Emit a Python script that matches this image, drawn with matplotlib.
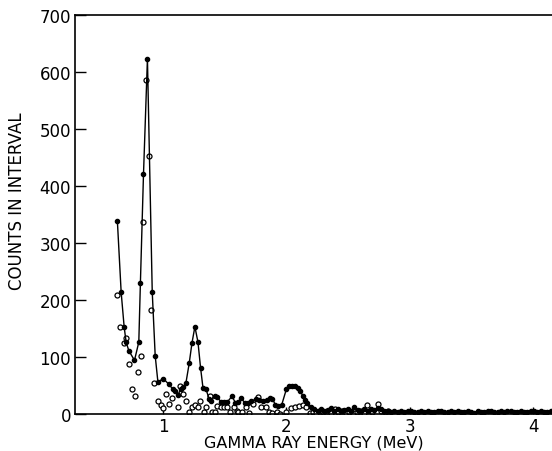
import numpy as np
import matplotlib
matplotlib.use("Agg")
import matplotlib.pyplot as plt

# espectro con ajuste (puntos llenos, unidos por la curva)
energia_llena = [0.628, 0.659, 0.683, 0.699, 0.721, 0.767, 0.802, 0.815, 0.840, 0.872,
                 0.911, 0.935, 0.957, 1.000, 1.046, 1.076, 1.098, 1.119, 1.143, 1.160,
                 1.184, 1.211, 1.233, 1.257, 1.282, 1.303, 1.323, 1.347, 1.372, 1.390,
                 1.417, 1.440, 1.469, 1.490, 1.520, 1.558, 1.585, 1.610, 1.632, 1.660,
                 1.690, 1.715, 1.756, 1.780, 1.810, 1.840, 1.864, 1.885, 1.910, 1.935,
                 1.960, 2.000, 2.019, 2.046, 2.068, 2.092, 2.110, 2.133, 2.150, 2.168,
                 2.200]
cuentas_llenas = [339, 213, 153, 126, 111, 94, 126, 230, 420, 623,
                  214, 102, 56, 62, 52, 44, 41, 33, 44, 47,
                  54, 89, 124, 153, 126, 81, 45, 44, 26, 22,
                  32, 29, 21, 21, 21, 31, 20, 21, 28, 20,
                  19, 23, 26, 25, 23, 25, 28, 27, 16, 14,
                  15, 44, 49, 49, 49, 45, 40, 32, 24, 19,
                  13]

# cola de alta energia (canales de ancho constante)
cola_inicio = 2.227
cola_paso = 0.027
cuentas_cola = [8, 6, 9, 5, 7, 10, 6, 8, 5, 7, 9, 6, 12, 7, 5, 8, 6, 9, 7, 10, 8, 6,
                5, 4, 6, 3, 5, 4, 6, 5, 3, 4, 6, 4, 5, 3, 4, 5, 6, 4, 3, 5, 4, 6, 3, 4,
                5, 4, 2, 5, 4, 3, 5, 6, 4, 3, 5, 4, 6, 5, 3, 4, 5, 4, 3, 5, 6, 4, 5, 3,
                4, 5]

# segundo espectro (circulos abiertos)
energia_abierta = [0.624, 0.653, 0.678, 0.699, 0.724, 0.745, 0.772, 0.794, 0.819, 0.840,
                   0.862, 0.884, 0.900, 0.929, 0.959, 0.980, 1.000, 1.024, 1.046, 1.075,
                   1.116, 1.138, 1.160, 1.187, 1.206, 1.230, 1.260, 1.280, 1.300, 1.330,
                   1.350, 1.377, 1.395, 1.417, 1.440, 1.469, 1.490, 1.520, 1.545, 1.575,
                   1.595, 1.610, 1.640, 1.670, 1.700, 1.725, 1.767, 1.790, 1.830, 1.860,
                   1.885, 1.920, 1.950, 2.000, 2.040, 2.070, 2.100, 2.130, 2.155, 2.190,
                   2.215, 2.240, 2.270, 2.300, 2.330, 2.360, 2.390, 2.420, 2.450, 2.480,
                   2.510, 2.540, 2.570, 2.600, 2.630, 2.656, 2.690, 2.740, 2.770, 2.800,
                   2.820]
cuentas_abiertas = [209, 152, 125, 133, 87, 44, 32, 73, 101, 337,
                    585, 452, 183, 54, 23, 16, 11, 35, 17, 28,
                    12, 49, 35, 23, 3, 12, 16, 12, 23, 4,
                    12, 31, 4, 4, 14, 12, 12, 12, 4, 12,
                    6, 4, 4, 12, 1, 18, 30, 12, 12, 4,
                    1, 4, 0, 3, 10, 12, 14, 16, 12, 2,
                    4, 2, 6, 3, 5, 2, 8, 3, 5, 2,
                    4, 1, 3, 6, 2, 16, 4, 18, 6, 3,
                    5]

energia_cola = cola_inicio + cola_paso * np.arange(len(cuentas_cola))
energia_total = np.concatenate([energia_llena, energia_cola])
cuentas_total = np.concatenate([cuentas_llenas, cuentas_cola])

fig = plt.figure(figsize=(5.52, 4.52), dpi=100)
ax = fig.add_axes([0.136, 0.082, 0.864, 0.883])

ax.plot(energia_total, cuentas_total, color='black', lw=1.0, marker='o',
        markersize=3.0, markerfacecolor='black', markeredgecolor='black', zorder=3)
ax.plot(energia_abierta, cuentas_abiertas, linestyle='none', marker='o',
        markersize=3.6, markerfacecolor='white', markeredgecolor='black',
        markeredgewidth=0.9, zorder=2)

ax.set_xlim(0.285, 4.154)
ax.set_ylim(0, 700)
ax.set_xticks([1, 2, 3, 4])
ax.set_yticks(range(0, 701, 100))

for lado in ['left', 'bottom', 'top']:
    ax.spines[lado].set_linewidth(1.2)
ax.spines['right'].set_visible(False)

ax.tick_params(axis='y', direction='in', length=8, width=1.0, labelsize=12, pad=3)
ax.tick_params(axis='x', direction='in', length=5, width=1.0, labelsize=12, pad=2)

ax.set_ylabel('COUNTS IN INTERVAL', fontsize=12)
ax.yaxis.set_label_coords(-0.102, 0.535)
ax.set_xlabel('GAMMA RAY ENERGY (MeV)', fontsize=11.5, labelpad=0)

fig.savefig('out.png', dpi=100)
